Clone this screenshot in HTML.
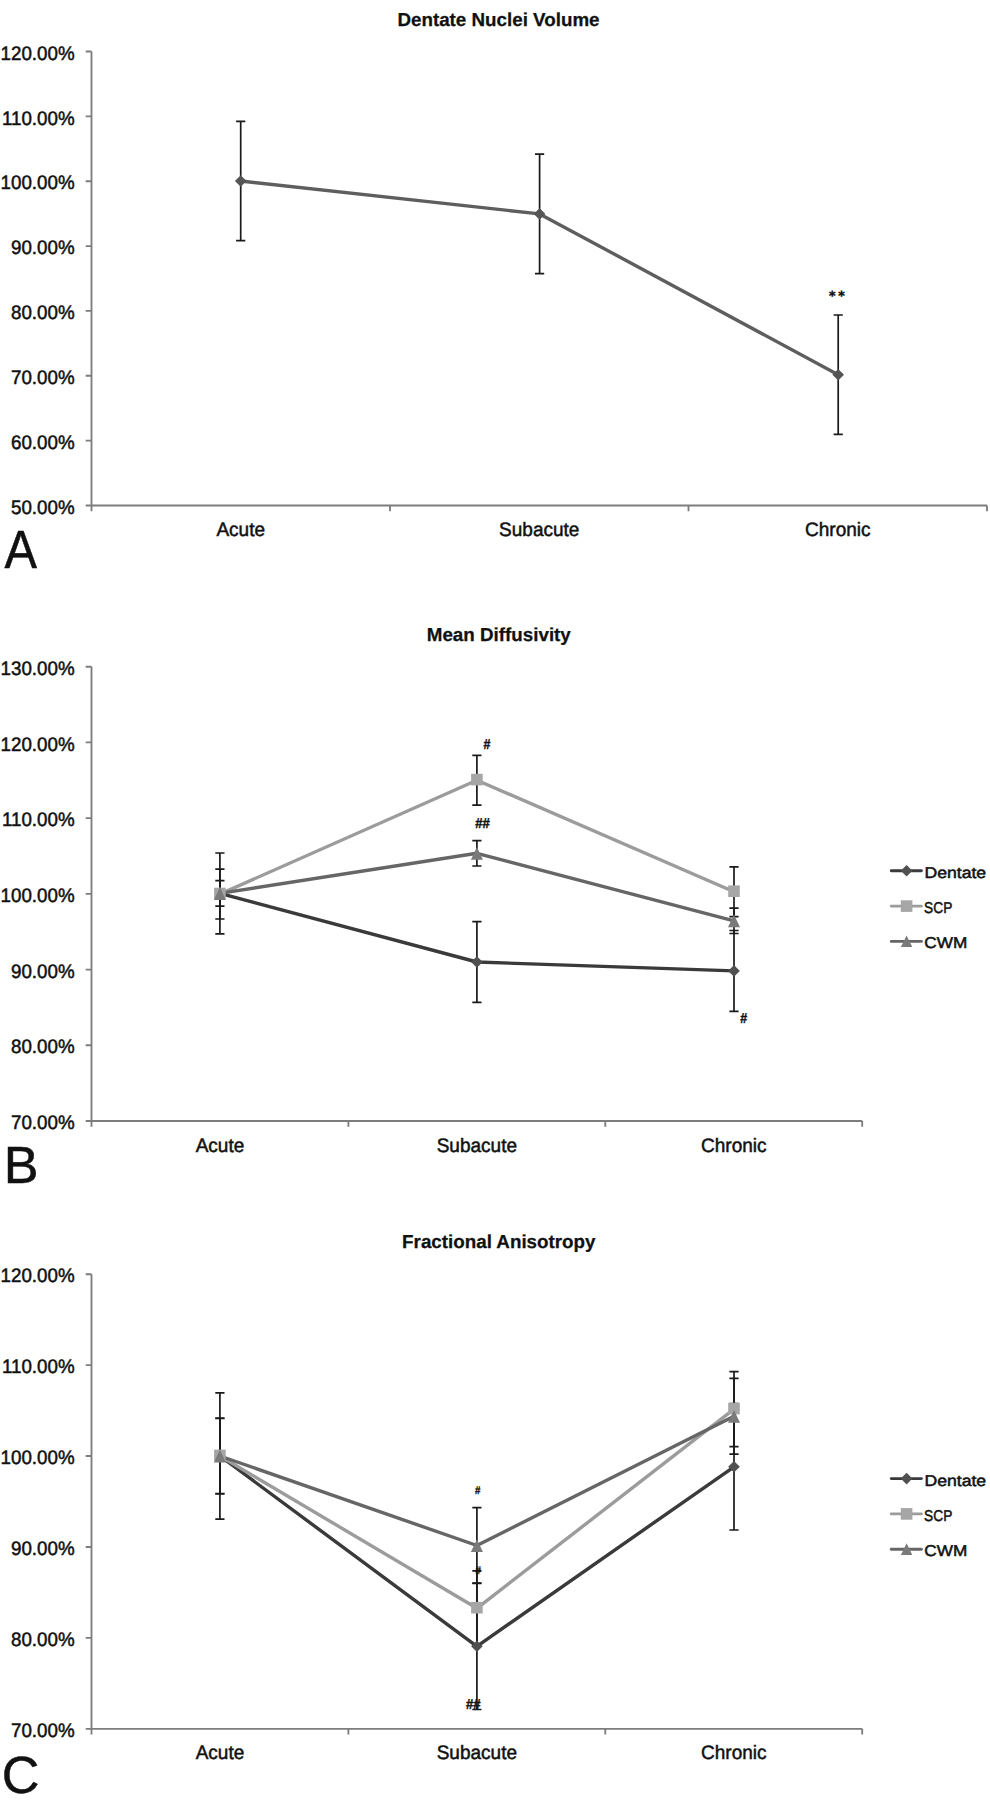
<!DOCTYPE html>
<html><head><meta charset="utf-8"><title>Figure</title>
<style>
html,body{margin:0;padding:0;background:#fff}
svg{display:block}
text{font-family:"Liberation Sans",sans-serif;fill:#111;text-rendering:geometricPrecision}
.t{font-size:19.5px;stroke:#111;stroke-width:.5px}
.b{font-size:18.8px;font-weight:bold;stroke:#111;stroke-width:.25px}
.s{font-size:13px;font-weight:bold;stroke:#111;stroke-width:.45px}
.h{font-size:14.2px}
.L{font-size:52.2px;stroke:#111;stroke-width:.5px}
.g{font-size:15.6px;stroke:#111;stroke-width:.5px}
</style></head><body>
<svg width="990" height="1800" viewBox="0 0 990 1800">
<rect width="990" height="1800" fill="#fff"/>
<text x="498.5" y="25.7" text-anchor="middle" class="b">Dentate Nuclei Volume</text>
<path d="M91.5 51.5V511.3M85.7 505.5H987" fill="none" stroke="#7d7d7d" stroke-width="1.85"/>
<path d="M85.7 51.50H91.5M85.7 116.36H91.5M85.7 181.21H91.5M85.7 246.07H91.5M85.7 310.93H91.5M85.7 375.79H91.5M85.7 440.64H91.5M390.00 505.5V511.3M688.50 505.5V511.3M987.00 505.5V511.3" fill="none" stroke="#7d7d7d" stroke-width="1.85"/>
<text transform="translate(74.6 59.70) scale(.962 1)" text-anchor="end" class="t">120.00%</text>
<text transform="translate(74.6 124.56) scale(.962 1)" text-anchor="end" class="t">110.00%</text>
<text transform="translate(74.6 189.41) scale(.962 1)" text-anchor="end" class="t">100.00%</text>
<text transform="translate(74.6 254.27) scale(.962 1)" text-anchor="end" class="t">90.00%</text>
<text transform="translate(74.6 319.13) scale(.962 1)" text-anchor="end" class="t">80.00%</text>
<text transform="translate(74.6 383.99) scale(.962 1)" text-anchor="end" class="t">70.00%</text>
<text transform="translate(74.6 448.84) scale(.962 1)" text-anchor="end" class="t">60.00%</text>
<text transform="translate(74.6 513.70) scale(.962 1)" text-anchor="end" class="t">50.00%</text>
<text transform="translate(240.75 536.10) scale(.975 1)" text-anchor="middle" class="t">Acute</text>
<text transform="translate(539.25 536.10) scale(.975 1)" text-anchor="middle" class="t">Subacute</text>
<text transform="translate(837.75 536.10) scale(.975 1)" text-anchor="middle" class="t">Chronic</text>
<path d="M240.70 121.30V240.70M236.10 121.30H245.30M236.10 240.70H245.30M539.60 154.20V273.60M535.00 154.20H544.20M535.00 273.60H544.20M838.20 315.00V434.40M833.60 315.00H842.80M833.60 434.40H842.80" fill="none" stroke="#1a1a1a" stroke-width="1.7"/>
<polyline points="240.7,181.0 539.6,213.9 838.2,374.7" fill="none" stroke="#5e5e5e" stroke-width="3.4" stroke-linejoin="round"/>
<path d="M240.70 175.20L246.50 181.00L240.70 186.80L234.90 181.00Z" fill="#555"/>
<path d="M539.60 208.10L545.40 213.90L539.60 219.70L533.80 213.90Z" fill="#555"/>
<path d="M838.20 368.90L844.00 374.70L838.20 380.50L832.40 374.70Z" fill="#555"/>
<text x="828.9" y="299.7" class="s" style="font-family:'DejaVu Sans','Liberation Sans',sans-serif;font-size:12.4px;letter-spacing:2.8px;stroke-width:.5px">**</text>
<text transform="translate(4.5 567.9) scale(0.9075 1)" class="L" style="font-size:53.7px">A</text>
<text x="498.8" y="640.9" text-anchor="middle" class="b">Mean Diffusivity</text>
<path d="M91.5 666.7V1126.8M85.7 1121.0H862.2" fill="none" stroke="#7d7d7d" stroke-width="1.85"/>
<path d="M85.7 666.70H91.5M85.7 742.42H91.5M85.7 818.13H91.5M85.7 893.85H91.5M85.7 969.57H91.5M85.7 1045.28H91.5M348.40 1121.0V1126.8M605.30 1121.0V1126.8M862.20 1121.0V1126.8" fill="none" stroke="#7d7d7d" stroke-width="1.85"/>
<text transform="translate(74.6 674.90) scale(.962 1)" text-anchor="end" class="t">130.00%</text>
<text transform="translate(74.6 750.62) scale(.962 1)" text-anchor="end" class="t">120.00%</text>
<text transform="translate(74.6 826.33) scale(.962 1)" text-anchor="end" class="t">110.00%</text>
<text transform="translate(74.6 902.05) scale(.962 1)" text-anchor="end" class="t">100.00%</text>
<text transform="translate(74.6 977.77) scale(.962 1)" text-anchor="end" class="t">90.00%</text>
<text transform="translate(74.6 1053.48) scale(.962 1)" text-anchor="end" class="t">80.00%</text>
<text transform="translate(74.6 1129.20) scale(.962 1)" text-anchor="end" class="t">70.00%</text>
<text transform="translate(219.95 1151.60) scale(.975 1)" text-anchor="middle" class="t">Acute</text>
<text transform="translate(476.85 1151.60) scale(.975 1)" text-anchor="middle" class="t">Subacute</text>
<text transform="translate(733.75 1151.60) scale(.975 1)" text-anchor="middle" class="t">Chronic</text>
<path d="M219.90 853.00V933.80M215.30 853.00H224.50M215.30 933.80H224.50M476.90 921.60V1002.40M472.30 921.60H481.50M472.30 1002.40H481.50M734.00 930.50V1011.30M729.40 930.50H738.60M729.40 1011.30H738.60" fill="none" stroke="#1a1a1a" stroke-width="1.7"/>
<path d="M219.90 869.20V919.00M215.30 869.20H224.50M215.30 919.00H224.50M476.90 755.30V805.10M472.30 755.30H481.50M472.30 805.10H481.50M734.00 866.90V916.70M729.40 866.90H738.60M729.40 916.70H738.60" fill="none" stroke="#1a1a1a" stroke-width="1.7"/>
<path d="M219.90 880.70V906.10M215.30 880.70H224.50M215.30 906.10H224.50M476.90 840.60V866.00M472.30 840.60H481.50M472.30 866.00H481.50M734.00 908.10V933.50M729.40 908.10H738.60M729.40 933.50H738.60" fill="none" stroke="#1a1a1a" stroke-width="1.7"/>
<polyline points="219.9,893.4 476.9,962.0 734.0,970.9" fill="none" stroke="#3a3a3a" stroke-width="3.4" stroke-linejoin="round"/>
<polyline points="219.9,894.1 476.9,780.2 734.0,891.8" fill="none" stroke="#9c9c9c" stroke-width="3.4" stroke-linejoin="round"/>
<polyline points="219.9,893.4 476.9,853.3 734.0,920.8" fill="none" stroke="#666" stroke-width="3.4" stroke-linejoin="round"/>
<path d="M219.90 887.60L225.70 893.40L219.90 899.20L214.10 893.40Z" fill="#505050"/>
<path d="M476.90 956.20L482.70 962.00L476.90 967.80L471.10 962.00Z" fill="#505050"/>
<path d="M734.00 965.10L739.80 970.90L734.00 976.70L728.20 970.90Z" fill="#505050"/>
<rect x="214.10" y="887.70" width="11.6" height="11.6" fill="#a6a6a6"/>
<rect x="471.10" y="773.80" width="11.6" height="11.6" fill="#a6a6a6"/>
<rect x="728.20" y="885.40" width="11.6" height="11.6" fill="#a6a6a6"/>
<path d="M219.90 887.10L225.90 899.90L213.90 899.90Z" fill="#7a7a7a"/>
<path d="M476.90 847.00L482.90 859.80L470.90 859.80Z" fill="#7a7a7a"/>
<path d="M734.00 914.50L740.00 927.30L728.00 927.30Z" fill="#7a7a7a"/>
<path d="M891.3 870.80H921.4" stroke="#3a3a3a" stroke-width="2.9" stroke-linecap="round"/>
<path d="M906.60 865.00L912.40 870.80L906.60 876.60L900.80 870.80Z" fill="#505050"/>
<text transform="translate(924.4 878.40) scale(1.131 1)" class="g">Dentate</text>
<path d="M891.3 906.10H921.4" stroke="#9c9c9c" stroke-width="2.9" stroke-linecap="round"/>
<rect x="900.80" y="900.30" width="11.6" height="11.6" fill="#a6a6a6"/>
<text transform="translate(924.1 913.35) scale(0.879 1)" class="g">SCP</text>
<path d="M891.3 941.40H921.4" stroke="#666" stroke-width="2.9" stroke-linecap="round"/>
<path d="M906.60 935.50L912.30 947.10L900.90 947.10Z" fill="#7a7a7a"/>
<text transform="translate(924.3 948.40) scale(1.103 1)" class="g">CWM</text>
<text x="3.7" y="1183.2" class="L">B</text>
<text transform="translate(483.5 748.5) scale(0.8745 1)" class="s h">#</text>
<text transform="translate(475.3 827.7) scale(0.9251 1)" class="s h">##</text>
<text transform="translate(740.3 1022.5) scale(0.8745 1)" class="s h">#</text>
<text x="498.8" y="1248.4" text-anchor="middle" class="b">Fractional Anisotropy</text>
<path d="M91.5 1274.2V1734.6M85.7 1728.8H862.2" fill="none" stroke="#7d7d7d" stroke-width="1.85"/>
<path d="M85.7 1274.20H91.5M85.7 1365.12H91.5M85.7 1456.04H91.5M85.7 1546.96H91.5M85.7 1637.88H91.5M348.40 1728.8V1734.6M605.30 1728.8V1734.6M862.20 1728.8V1734.6" fill="none" stroke="#7d7d7d" stroke-width="1.85"/>
<text transform="translate(74.6 1282.40) scale(.962 1)" text-anchor="end" class="t">120.00%</text>
<text transform="translate(74.6 1373.32) scale(.962 1)" text-anchor="end" class="t">110.00%</text>
<text transform="translate(74.6 1464.24) scale(.962 1)" text-anchor="end" class="t">100.00%</text>
<text transform="translate(74.6 1555.16) scale(.962 1)" text-anchor="end" class="t">90.00%</text>
<text transform="translate(74.6 1646.08) scale(.962 1)" text-anchor="end" class="t">80.00%</text>
<text transform="translate(74.6 1737.00) scale(.962 1)" text-anchor="end" class="t">70.00%</text>
<text transform="translate(219.95 1759.40) scale(.975 1)" text-anchor="middle" class="t">Acute</text>
<text transform="translate(476.85 1759.40) scale(.975 1)" text-anchor="middle" class="t">Subacute</text>
<text transform="translate(733.75 1759.40) scale(.975 1)" text-anchor="middle" class="t">Chronic</text>
<path d="M219.90 1392.80V1519.20M215.30 1392.80H224.50M215.30 1519.20H224.50M476.90 1583.10V1709.50M472.30 1583.10H481.50M472.30 1709.50H481.50M734.00 1403.60V1530.00M729.40 1403.60H738.60M729.40 1530.00H738.60" fill="none" stroke="#1a1a1a" stroke-width="1.7"/>
<path d="M219.90 1418.50V1493.50M215.30 1418.50H224.50M215.30 1493.50H224.50M476.90 1570.80V1645.80M472.30 1570.80H481.50M472.30 1645.80H481.50M734.00 1371.70V1446.70M729.40 1371.70H738.60M729.40 1446.70H738.60" fill="none" stroke="#1a1a1a" stroke-width="1.7"/>
<path d="M219.90 1418.10V1493.90M215.30 1418.10H224.50M215.30 1493.90H224.50M476.90 1507.60V1583.40M472.30 1507.60H481.50M472.30 1583.40H481.50M734.00 1378.30V1454.10M729.40 1378.30H738.60M729.40 1454.10H738.60" fill="none" stroke="#1a1a1a" stroke-width="1.7"/>
<polyline points="219.9,1456.0 476.9,1646.3 734.0,1466.8" fill="none" stroke="#3a3a3a" stroke-width="3.4" stroke-linejoin="round"/>
<polyline points="219.9,1456.0 476.9,1608.3 734.0,1409.2" fill="none" stroke="#9c9c9c" stroke-width="3.4" stroke-linejoin="round"/>
<polyline points="219.9,1456.0 476.9,1545.5 734.0,1416.2" fill="none" stroke="#666" stroke-width="3.4" stroke-linejoin="round"/>
<path d="M219.90 1450.20L225.70 1456.00L219.90 1461.80L214.10 1456.00Z" fill="#505050"/>
<path d="M476.90 1640.50L482.70 1646.30L476.90 1652.10L471.10 1646.30Z" fill="#505050"/>
<path d="M734.00 1461.00L739.80 1466.80L734.00 1472.60L728.20 1466.80Z" fill="#505050"/>
<rect x="214.10" y="1449.60" width="11.6" height="11.6" fill="#a6a6a6"/>
<rect x="471.10" y="1601.90" width="11.6" height="11.6" fill="#a6a6a6"/>
<rect x="728.20" y="1402.80" width="11.6" height="11.6" fill="#a6a6a6"/>
<path d="M219.90 1449.70L225.90 1462.50L213.90 1462.50Z" fill="#7a7a7a"/>
<path d="M476.90 1539.20L482.90 1552.00L470.90 1552.00Z" fill="#7a7a7a"/>
<path d="M734.00 1409.90L740.00 1422.70L728.00 1422.70Z" fill="#7a7a7a"/>
<path d="M891.3 1478.60H921.4" stroke="#3a3a3a" stroke-width="2.9" stroke-linecap="round"/>
<path d="M906.60 1472.80L912.40 1478.60L906.60 1484.40L900.80 1478.60Z" fill="#505050"/>
<text transform="translate(924.4 1486.20) scale(1.131 1)" class="g">Dentate</text>
<path d="M891.3 1513.90H921.4" stroke="#9c9c9c" stroke-width="2.9" stroke-linecap="round"/>
<rect x="900.80" y="1508.10" width="11.6" height="11.6" fill="#a6a6a6"/>
<text transform="translate(924.1 1521.15) scale(0.879 1)" class="g">SCP</text>
<path d="M891.3 1549.20H921.4" stroke="#666" stroke-width="2.9" stroke-linecap="round"/>
<path d="M906.60 1543.30L912.30 1554.90L900.90 1554.90Z" fill="#7a7a7a"/>
<text transform="translate(924.3 1556.20) scale(1.103 1)" class="g">CWM</text>
<text x="1.7" y="1793.4" class="L">C</text>
<text transform="translate(475.1 1494.3) scale(0.8816 1)" class="s" style="font-size:11px;stroke-width:.35px">#</text>
<text transform="translate(475.6 1573.5) scale(0.8816 1)" class="s" style="font-size:11px;stroke-width:.35px">#</text>
<text transform="translate(465.9 1709.1) scale(0.9251 1)" class="s h">##</text>
</svg>
</body></html>
